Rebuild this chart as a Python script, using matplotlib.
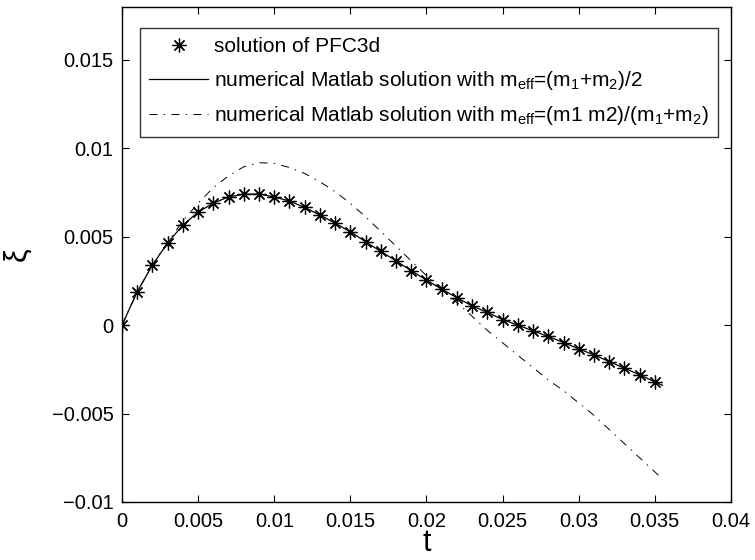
import matplotlib

matplotlib.use("Agg")
import matplotlib.pyplot as plt
import numpy as np

plt.rcParams.update(
    {
        "font.family": ["Liberation Sans", "DejaVu Sans"],
        "font.size": 15,
        "mathtext.fontset": "custom",
        "mathtext.rm": "Liberation Sans",
        "axes.linewidth": 1.0,
        "xtick.direction": "in",
        "ytick.direction": "in",
        "lines.scale_dashes": False,
    }
)

# PFC3d solution (markers)
t_pfc = [0.000, 0.001, 0.002, 0.003, 0.004, 0.005, 0.006, 0.007, 0.008, 0.009,
         0.010, 0.011, 0.012, 0.013, 0.014, 0.015, 0.016, 0.017, 0.018, 0.019,
         0.020, 0.021, 0.022, 0.023, 0.024, 0.025, 0.026, 0.027, 0.028, 0.029,
         0.030, 0.031, 0.032, 0.033, 0.034, 0.035]
xi_pfc = [0.0, 0.00189, 0.00340, 0.00466, 0.00566, 0.00640, 0.00690, 0.00726, 0.00740, 0.00742,
          0.00725, 0.00702, 0.00666, 0.00623, 0.00577, 0.00528, 0.00472, 0.00417, 0.00364, 0.00308,
          0.00255, 0.00204, 0.00155, 0.00109, 0.00072, 0.00032, 0.00000, -0.00032, -0.00064, -0.00098,
          -0.00134, -0.00168, -0.00206, -0.00243, -0.00281, -0.00321]

# Matlab solution, m_eff = (m1+m2)/2 (solid)
t_sum = t_pfc + [0.0355]
xi_sum = xi_pfc + [-0.00340]

# Matlab solution, m_eff = m1 m2/(m1+m2) (dash-dot)
t_red = t_pfc + [0.0355]
xi_red = [0.0, 0.00190, 0.00340, 0.00470, 0.00590, 0.00690, 0.00778, 0.00845, 0.00896, 0.00919,
          0.00915, 0.00892, 0.00858, 0.00811, 0.00755, 0.00689, 0.00613, 0.00530, 0.00447, 0.00363,
          0.00280, 0.00200, 0.00128, 0.00050, -0.00030, -0.00100, -0.00170, -0.00240, -0.00310, -0.00370,
          -0.00440, -0.00510, -0.00590, -0.00670, -0.00750, -0.00830, -0.00870]

x_ticks = [0, 0.005, 0.01, 0.015, 0.02, 0.025, 0.03, 0.035, 0.04]
x_labels = ["0", "0.005", "0.01", "0.015", "0.02", "0.025", "0.03", "0.035", "0.04"]
y_ticks = [-0.01, -0.005, 0, 0.005, 0.01, 0.015]
y_labels = ["\u22120.01", "\u22120.005", "0", "0.005", "0.01", "0.015"]

fig = plt.figure(figsize=(7.55, 5.6), dpi=100)
ax = fig.add_axes([0.1616, 0.1036, 0.8066, 0.884])

asterisk = (8, 2, 0)
ax.plot(t_pfc, xi_pfc, linestyle="none", marker=asterisk, markersize=10,
        markeredgewidth=0.9, color="black", label="solution of PFC3d")
ax.plot(t_sum, xi_sum, color="black", linewidth=0.9,
        label=r"numerical Matlab solution with m$\mathregular{_{eff}}$=(m$\mathregular{_1}$+m$\mathregular{_2}$)/2")
ax.plot(t_red, xi_red, color="black", linewidth=0.7, dashes=(5.8, 4.5, 1, 4.5),
        label=r"numerical Matlab solution with m$\mathregular{_{eff}}$=(m1 m2)/(m$\mathregular{_1}$+m$\mathregular{_2}$)")

ax.set_xlim(0, 0.04)
ax.set_ylim(-0.01, 0.018)
ax.set_xticks(x_ticks)
ax.set_xticklabels(x_labels)
ax.set_yticks(y_ticks)
ax.set_yticklabels(y_labels)
ax.tick_params(top=True, right=True, length=5, width=0.8, labelsize=14.5)
ax.tick_params(axis="x", pad=7)
ax.tick_params(axis="y", pad=6)

ax.set_xlabel("t", fontsize=22, labelpad=-2)
ax.set_ylabel("\u03be", fontsize=22, rotation=90, labelpad=14)

leg = ax.legend(loc="upper left", bbox_to_anchor=(0.0296, 0.9576), borderaxespad=0,
                fontsize=15, frameon=True, fancybox=False, edgecolor="black",
                handlelength=2.8, handletextpad=0.3, borderpad=0.45, labelspacing=0.6)
leg.get_frame().set_linewidth(1.0)

fig.savefig("out.png", dpi=100)
